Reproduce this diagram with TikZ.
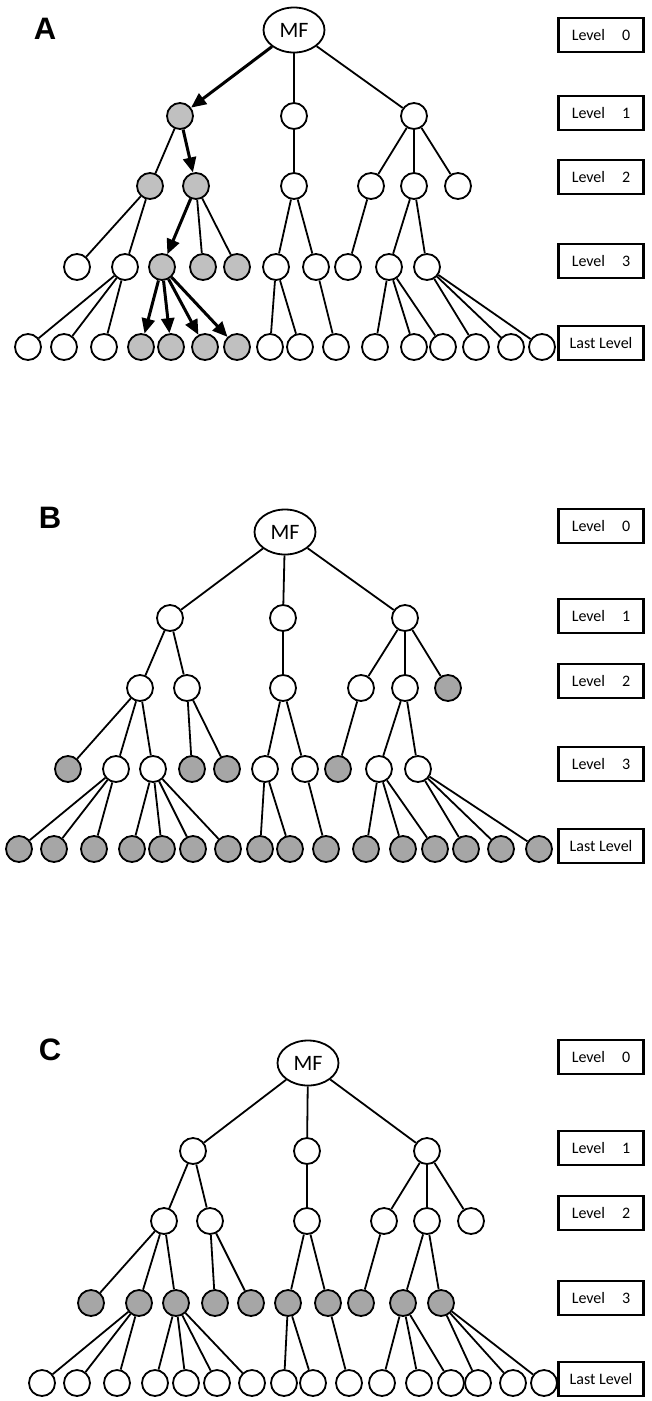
\documentclass[tikz,border=0pt]{standalone}
\usepackage{fontspec}
\setmainfont{Carlito}
\newfontfamily\tagfont{Liberation Sans}
\usetikzlibrary{shapes.geometric,arrows.meta}
\definecolor{grayA}{RGB}{192,192,192}
\definecolor{grayB}{RGB}{166,166,166}

\begin{document}
\begin{tikzpicture}[x=1pt,y=-1pt]
  \tikzstyle{nd}=[circle,draw,line width=1.8pt,minimum size=26pt,inner sep=0pt,fill=white]
  \tikzstyle{hitA}=[nd,fill=grayA]
  \tikzstyle{hitB}=[nd,fill=grayB]
  \tikzstyle{mf}=[ellipse,draw,line width=1.8pt,minimum width=61pt,minimum height=45pt,inner sep=0pt,font=\fontsize{22}{22}\selectfont]
  \tikzstyle{lvl}=[rectangle,draw,line width=2.2pt,minimum width=85pt,minimum height=34pt,inner sep=0pt,font=\fontsize{16}{16}\selectfont]
  \tikzstyle{edge}=[line width=1.8pt]
  \tikzstyle{walk}=[line width=3pt,-{Triangle[length=15pt,width=13pt]}]
  \tikzstyle{tag}=[font=\tagfont\bfseries\fontsize{31}{31}\selectfont]
  \useasboundingbox (0,0) rectangle (652,1401);

  % panel A
  \node[tag] (tagA) at (45,29) {A};
  \node[mf] (a0) at (294,30) {MF};
  \foreach \x/\s [count=\i] in {180/hitA,294/nd,414/nd}
    \node[\s] (a1-\i) at (\x,116) {};
  \foreach \x/\s [count=\i] in {150/hitA,196/hitA,294/nd,371/nd,414/nd,458/nd}
    \node[\s] (a2-\i) at (\x,186) {};
  \foreach \x/\s [count=\i] in {77/nd,125/nd,162/hitA,203/hitA,237/hitA,276/nd,316/nd,348/nd,389/nd,427/nd}
    \node[\s] (a3-\i) at (\x,267) {};
  \foreach \x/\s [count=\i] in {28/nd,64/nd,104/nd,141/hitA,171/hitA,205/hitA,237/hitA,270/nd,300/nd,336/nd,375/nd,414/nd,443/nd,476/nd,511/nd,542/nd}
    \node[\s] (a4-\i) at (\x,347) {};
  \foreach \y/\t [count=\i] in {35/Level\hspace{17pt}0,113/Level\hspace{17pt}1,177/Level\hspace{17pt}2,261/Level\hspace{17pt}3,343/Last Level}
    \node[lvl] (aL\i) at (601,\y) {\t};

  % panel B
  \node[tag] (tagB) at (50,518) {B};
  \node[mf] (b0) at (285,532) {MF};
  \foreach \x/\s [count=\i] in {170/nd,283/nd,405/nd}
    \node[\s] (b1-\i) at (\x,618) {};
  \foreach \x/\s [count=\i] in {140/nd,187/nd,283/nd,361/nd,405/nd,448/hitB}
    \node[\s] (b2-\i) at (\x,688) {};
  \foreach \x/\s [count=\i] in {68/hitB,116/nd,153/nd,192/hitB,227/hitB,265/nd,305/nd,338/hitB,379/nd,418/nd}
    \node[\s] (b3-\i) at (\x,769) {};
  \foreach \x [count=\i] in {19,54,94,132,162,193,228,260,290,326,366,403,435,466,501,539}
    \node[hitB] (b4-\i) at (\x,849) {};
  \foreach \y/\t [count=\i] in {526/Level\hspace{17pt}0,616/Level\hspace{17pt}1,681/Level\hspace{17pt}2,764/Level\hspace{17pt}3,846/Last Level}
    \node[lvl] (bL\i) at (601,\y) {\t};

  % panel C
  \node[tag] (tagC) at (50,1050) {C};
  \node[mf] (c0) at (308,1063) {MF};
  \foreach \x [count=\i] in {193,307,427}
    \node[nd] (c1-\i) at (\x,1151) {};
  \foreach \x [count=\i] in {164,210,307,384,427,471}
    \node[nd] (c2-\i) at (\x,1221) {};
  \foreach \x [count=\i] in {91,139,176,215,251,288,328,361,403,441}
    \node[hitB] (c3-\i) at (\x,1303) {};
  \foreach \x [count=\i] in {42,77,117,155,186,217,252,284,313,349,382,419,451,478,513,544}
    \node[nd] (c4-\i) at (\x,1383) {};
  \foreach \y/\t [count=\i] in {1057/Level\hspace{17pt}0,1148/Level\hspace{17pt}1,1213/Level\hspace{17pt}2,1298/Level\hspace{17pt}3,1379/Last Level}
    \node[lvl] (cL\i) at (601,\y) {\t};

  % edges shared by the three trees
  \foreach \t in {a,b,c}
    \foreach \p/\c in {0/1-2,0/1-3,1-1/2-1,1-2/2-3,1-3/2-4,1-3/2-5,1-3/2-6,
                       2-1/3-1,2-1/3-2,2-2/3-4,2-2/3-5,2-3/3-6,2-3/3-7,2-4/3-8,2-5/3-9,2-5/3-10,
                       3-2/4-1,3-2/4-2,3-2/4-3,3-6/4-8,3-6/4-9,3-7/4-10,
                       3-9/4-11,3-9/4-12,3-9/4-13,3-10/4-14,3-10/4-15,3-10/4-16}
      \draw[edge] (\t\p) -- (\t\c);
  \foreach \t in {b,c}
    \foreach \p/\c in {0/1-1,1-1/2-2,2-1/3-3,3-3/4-4,3-3/4-5,3-3/4-6,3-3/4-7}
      \draw[edge] (\t\p) -- (\t\c);

  % search path in A
  \foreach \p/\c in {0/1-1,1-1/2-2,2-2/3-3,3-3/4-4,3-3/4-5,3-3/4-6,3-3/4-7}
    \draw[walk] (a\p) -- (a\c);
\end{tikzpicture}
\end{document}
